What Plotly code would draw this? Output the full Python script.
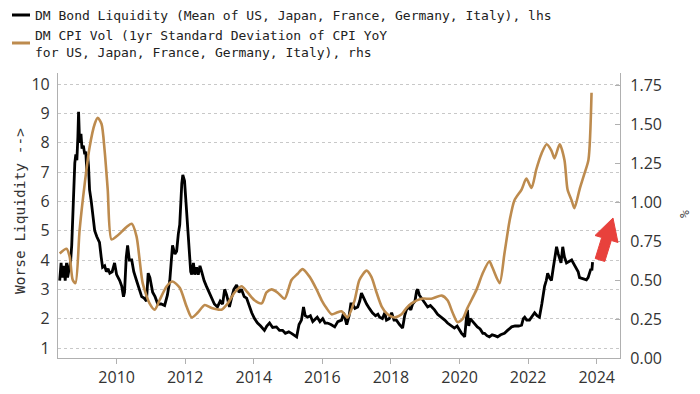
import plotly.graph_objects as go

# ---------------- data ----------------
liq_years = [2008.34, 2008.38, 2008.42, 2008.46, 2008.50, 2008.54, 2008.57, 2008.62, 2008.66, 2008.69,
             2008.73, 2008.78, 2008.81, 2008.84, 2008.87, 2008.89, 2008.92, 2008.96, 2008.99, 2009.03,
             2009.07, 2009.10, 2009.13, 2009.15, 2009.18, 2009.21, 2009.26, 2009.31, 2009.36, 2009.42,
             2009.50, 2009.55, 2009.59, 2009.65, 2009.70, 2009.75, 2009.80, 2009.87, 2009.94, 2010.00,
             2010.09, 2010.15, 2010.20, 2010.23, 2010.28, 2010.32, 2010.37, 2010.44, 2010.50, 2010.58,
             2010.65, 2010.73, 2010.80, 2010.87, 2010.92, 2010.97, 2011.05, 2011.12, 2011.20, 2011.30,
             2011.40, 2011.48, 2011.55, 2011.60, 2011.63, 2011.70, 2011.75, 2011.80, 2011.84, 2011.90,
             2011.93, 2011.98, 2012.03, 2012.07, 2012.12, 2012.16, 2012.19, 2012.24, 2012.28, 2012.33,
             2012.38, 2012.43, 2012.48, 2012.55, 2012.62, 2012.70, 2012.77, 2012.85, 2012.94, 2013.02,
             2013.09, 2013.15, 2013.21, 2013.29, 2013.35, 2013.42, 2013.50, 2013.57, 2013.64, 2013.72,
             2013.79, 2013.87, 2013.94, 2014.02, 2014.11, 2014.20, 2014.31, 2014.38, 2014.46, 2014.55,
             2014.66, 2014.75, 2014.84, 2014.92, 2015.02, 2015.10, 2015.18, 2015.25, 2015.32, 2015.39,
             2015.45, 2015.50, 2015.57, 2015.65, 2015.72, 2015.77, 2015.85, 2015.93, 2016.01, 2016.08,
             2016.15, 2016.25, 2016.36, 2016.45, 2016.56, 2016.62, 2016.67, 2016.71, 2016.78, 2016.83,
             2016.88, 2016.95, 2017.03, 2017.09, 2017.14, 2017.20, 2017.29, 2017.37, 2017.46, 2017.55,
             2017.62, 2017.67, 2017.75, 2017.82, 2017.87, 2017.95, 2018.02, 2018.09, 2018.16, 2018.25,
             2018.34, 2018.40, 2018.45, 2018.52, 2018.58, 2018.63, 2018.70, 2018.75, 2018.78, 2018.83,
             2018.92, 2018.98, 2019.07, 2019.15, 2019.27, 2019.36, 2019.48, 2019.57, 2019.65, 2019.75,
             2019.85, 2019.93, 2020.00, 2020.06, 2020.12, 2020.15, 2020.20, 2020.23, 2020.27, 2020.31,
             2020.35, 2020.42, 2020.52, 2020.60, 2020.68, 2020.73, 2020.80, 2020.87, 2020.95, 2021.03,
             2021.11, 2021.20, 2021.31, 2021.40, 2021.52, 2021.62, 2021.72, 2021.81, 2021.86, 2021.90,
             2021.96, 2022.04, 2022.12, 2022.19, 2022.26, 2022.33, 2022.40, 2022.48, 2022.53, 2022.57,
             2022.62, 2022.68, 2022.73, 2022.77, 2022.83, 2022.88, 2022.92, 2022.96, 2023.01, 2023.06,
             2023.12, 2023.20, 2023.27, 2023.34, 2023.41, 2023.46, 2023.50, 2023.60, 2023.70, 2023.75,
             2023.79, 2023.83, 2023.86, 2023.88]
liq_values = [3.3, 3.9, 3.4, 3.8, 3.3, 3.9, 3.4, 3.7, 4.0, 4.5,
              6.0, 7.3, 7.6, 7.4, 8.2, 9.05, 8.0, 8.3, 7.8, 7.9,
              7.6, 7.7, 7.05, 7.6, 7.2, 6.4, 6.0, 5.4, 5.0, 4.8,
              4.6, 4.1, 3.75, 3.8, 3.6, 3.7, 3.55, 3.6, 3.9, 3.5,
              3.3, 3.1, 2.75, 2.9, 4.1, 4.5, 4.0, 4.0, 3.6, 3.3,
              3.0, 2.75, 2.7, 2.6, 3.55, 3.4, 2.9, 2.75, 2.5, 2.5,
              2.45, 2.8, 3.3, 4.0, 4.5, 4.2, 4.3, 4.9, 5.2, 6.6,
              6.9, 6.7, 5.8, 5.4, 4.5, 3.6, 3.5, 3.9, 3.5, 3.75,
              3.5, 3.8, 3.6, 3.3, 3.1, 2.9, 2.75, 2.5, 2.4, 2.6,
              2.5, 3.0, 2.8, 2.4, 2.7, 3.0, 3.15, 2.9, 3.0, 2.75,
              2.7, 2.4, 2.2, 2.0, 1.85, 1.75, 1.6, 1.75, 1.85, 1.7,
              1.72, 1.6, 1.6, 1.5, 1.55, 1.5, 1.42, 1.38, 1.8, 1.95,
              2.4, 2.1, 2.05, 2.1, 1.9, 1.95, 2.05, 1.9, 2.0, 1.85,
              1.85, 1.8, 1.72, 1.9, 1.95, 2.2, 2.0, 1.8, 2.1, 2.5,
              2.5, 2.35, 2.4, 2.6, 2.87, 2.7, 2.5, 2.35, 2.2, 2.1,
              2.15, 2.05, 2.0, 2.2, 1.95, 2.0, 2.2, 1.95, 1.95, 1.8,
              1.68, 2.1, 2.3, 2.4, 2.3, 2.5, 2.6, 2.95, 3.0, 2.8,
              2.65, 2.55, 2.4, 2.45, 2.3, 2.15, 2.05, 1.95, 1.85, 1.75,
              1.68, 1.75, 1.6, 1.5, 1.42, 1.38, 2.0, 2.3, 1.75, 2.0,
              1.95, 1.85, 1.72, 1.65, 1.5, 1.5, 1.42, 1.38, 1.45, 1.42,
              1.38, 1.45, 1.5, 1.6, 1.72, 1.75, 1.75, 1.78, 2.0, 2.05,
              1.95, 1.95, 2.1, 2.2, 2.1, 2.05, 2.5, 3.1, 3.3, 3.55,
              3.4, 3.3, 3.7, 4.0, 4.45, 4.2, 4.0, 3.9, 4.45, 4.1,
              3.9, 3.95, 4.0, 3.85, 3.73, 3.6, 3.4, 3.35, 3.32, 3.4,
              3.55, 3.7, 3.65, 3.93]

cpi_years = [2008.34, 2008.54, 2008.63, 2008.72, 2008.80, 2008.92, 2009.07, 2009.21, 2009.36, 2009.45,
             2009.56, 2009.65, 2009.74, 2009.85, 2010.00, 2010.15, 2010.29, 2010.44, 2010.58, 2010.67,
             2010.76, 2010.96, 2011.11, 2011.25, 2011.46, 2011.63, 2011.84, 2012.04, 2012.19, 2012.36,
             2012.57, 2012.77, 2013.06, 2013.24, 2013.44, 2013.64, 2013.82, 2014.02, 2014.23, 2014.37,
             2014.52, 2014.69, 2014.90, 2015.10, 2015.28, 2015.42, 2015.63, 2015.83, 2015.98, 2016.12,
             2016.27, 2016.41, 2016.56, 2016.73, 2016.94, 2017.08, 2017.29, 2017.43, 2017.58, 2017.73,
             2017.90, 2018.10, 2018.31, 2018.45, 2018.60, 2018.89, 2019.18, 2019.48, 2019.65, 2019.80,
             2019.94, 2020.09, 2020.23, 2020.50, 2020.67, 2020.87, 2020.96, 2021.17, 2021.31, 2021.46,
             2021.60, 2021.81, 2021.95, 2022.10, 2022.24, 2022.39, 2022.54, 2022.68, 2022.77, 2022.92,
             2023.06, 2023.15, 2023.27, 2023.35, 2023.50, 2023.64, 2023.76, 2023.85]
cpi_values = [0.67, 0.70, 0.65, 0.50, 0.48, 0.82, 1.12, 1.35, 1.50, 1.54,
              1.50, 1.33, 1.08, 0.76, 0.78, 0.81, 0.84, 0.86, 0.78, 0.63,
              0.48, 0.35, 0.31, 0.37, 0.46, 0.49, 0.45, 0.33, 0.26, 0.29,
              0.34, 0.32, 0.31, 0.35, 0.42, 0.46, 0.42, 0.37, 0.35, 0.42,
              0.44, 0.42, 0.38, 0.50, 0.54, 0.57, 0.52, 0.44, 0.37, 0.32,
              0.28, 0.29, 0.30, 0.26, 0.37, 0.50, 0.56, 0.52, 0.42, 0.33,
              0.28, 0.26, 0.28, 0.32, 0.35, 0.38, 0.38, 0.40, 0.37, 0.29,
              0.23, 0.25, 0.32, 0.44, 0.54, 0.62, 0.58, 0.48, 0.67, 0.88,
              1.01, 1.08, 1.15, 1.09, 1.21, 1.31, 1.37, 1.33, 1.28, 1.37,
              1.27, 1.08, 1.01, 0.96, 1.08, 1.18, 1.27, 1.70]

x_ticks = [2010, 2012, 2014, 2016, 2018, 2020, 2022, 2024]
left_ticks = [1, 2, 3, 4, 5, 6, 7, 8, 9, 10]
right_ticks = [0.00, 0.25, 0.50, 0.75, 1.00, 1.25, 1.50, 1.75]

liq_name = "DM Bond Liquidity (Mean of US, Japan, France, Germany, Italy), lhs"
cpi_name_1 = "DM CPI Vol (1yr Standard Deviation of CPI YoY"
cpi_name_2 = "for US, Japan, France, Germany, Italy), rhs"

# ---------------- layout helpers ----------------
# the page body has an 8px default margin, so the figure is drawn 8px smaller
PAGE_OFF = 8
WIN_W, WIN_H = 700, 394
W, H = WIN_W - PAGE_OFF, WIN_H - PAGE_OFF
# plot area in window pixels
L, R, T, B = 58, 620, 73, 358


def px(x):
    return (x - L) / (R - L)


def py(y):
    return (B - y) / (B - T)


BLACK = "#000000"
GOLD = "#BD8B4E"
TICK_FONT = dict(family="Open Sans, DejaVu Sans, sans-serif", size=16, color="#333333")
MONO = "DejaVu Sans Mono, Liberation Mono, monospace"

fig = go.Figure()
fig.add_trace(go.Scatter(x=cpi_years, y=cpi_values, mode="lines", yaxis="y2",
                         line=dict(color=GOLD, width=2.6, shape="spline", smoothing=0.7),
                         name=cpi_name_1 + " " + cpi_name_2, hoverinfo="skip"))
fig.add_trace(go.Scatter(x=liq_years, y=liq_values, mode="lines",
                         line=dict(color=BLACK, width=2.8),
                         name=liq_name, hoverinfo="skip"))

fig.update_layout(
    width=W, height=H,
    margin=dict(l=L - PAGE_OFF, r=WIN_W - R, t=T - PAGE_OFF, b=WIN_H - B, pad=0),
    paper_bgcolor="white", plot_bgcolor="white",
    showlegend=False,
    xaxis=dict(range=[2008.29, 2024.68], tickvals=x_ticks, ticktext=[str(t) for t in x_ticks],
               showgrid=False, zeroline=False, showline=True, linecolor="#b0b0b0", linewidth=1.2,
               ticks="outside", ticklen=5, tickcolor="#b0b0b0", tickfont=TICK_FONT,
               automargin=False),
    yaxis=dict(range=[0.659, 10.375], tickvals=left_ticks, showgrid=True, gridcolor="#c8c8c8",
               griddash="dot", gridwidth=1, zeroline=False, showline=True, linecolor="#b0b0b0",
               linewidth=1.2, ticks="", tickfont=TICK_FONT, ticklabelstandoff=4, automargin=False),
    yaxis2=dict(range=[0, 1.827], tickvals=right_ticks, ticktext=[f"{v:.2f}" for v in right_ticks],
                overlaying="y", side="right", showgrid=False, zeroline=False, showline=True,
                linecolor="#b0b0b0", linewidth=1.2, ticks="inside", ticklen=5, tickcolor="#b0b0b0",
                tickfont=TICK_FONT, ticklabelstandoff=6, automargin=False),
)

anns = []
for txt, yy in [(liq_name, 15), (cpi_name_1, 35), (cpi_name_2, 52)]:
    anns.append(dict(xref="paper", yref="paper", x=px(33), y=py(yy), text=txt,
                     xanchor="left", yanchor="middle", showarrow=False,
                     font=dict(family=MONO, size=13, color="#222222")))
anns.append(dict(xref="paper", yref="paper", x=px(20), y=py(211), text="Worse Liquidity -->",
                 textangle=-90, showarrow=False, xanchor="center", yanchor="middle",
                 font=dict(family=MONO, size=14.5, color="#333333")))
anns.append(dict(xref="paper", yref="paper", x=px(684), y=py(214), text="%",
                 textangle=-90, showarrow=False, xanchor="center", yanchor="middle",
                 font=dict(family=MONO, size=13, color="#444444")))
fig.update_layout(annotations=anns)

# legend samples
shapes = [
    dict(type="line", xref="paper", yref="paper", x0=px(12), x1=px(30), y0=py(15), y1=py(15),
         line=dict(color=BLACK, width=3)),
    dict(type="line", xref="paper", yref="paper", x0=px(12), x1=px(30), y0=py(43), y1=py(43),
         line=dict(color=GOLD, width=3)),
]
# red block arrow
arrow_pts = [(613, 218), (618, 242.5), (611.3, 240.5), (604.8, 261.5),
             (595.2, 258.5), (601.7, 237.5), (595, 235.5)]
path = "M " + " L ".join(f"{px(x):.5f},{py(y):.5f}" for x, y in arrow_pts) + " Z"
shapes.append(dict(type="path", xref="paper", yref="paper", path=path,
                   fillcolor="#E8413C", line=dict(color="#E8413C", width=1)))
fig.update_layout(shapes=shapes)

fig.write_html("out.html")
